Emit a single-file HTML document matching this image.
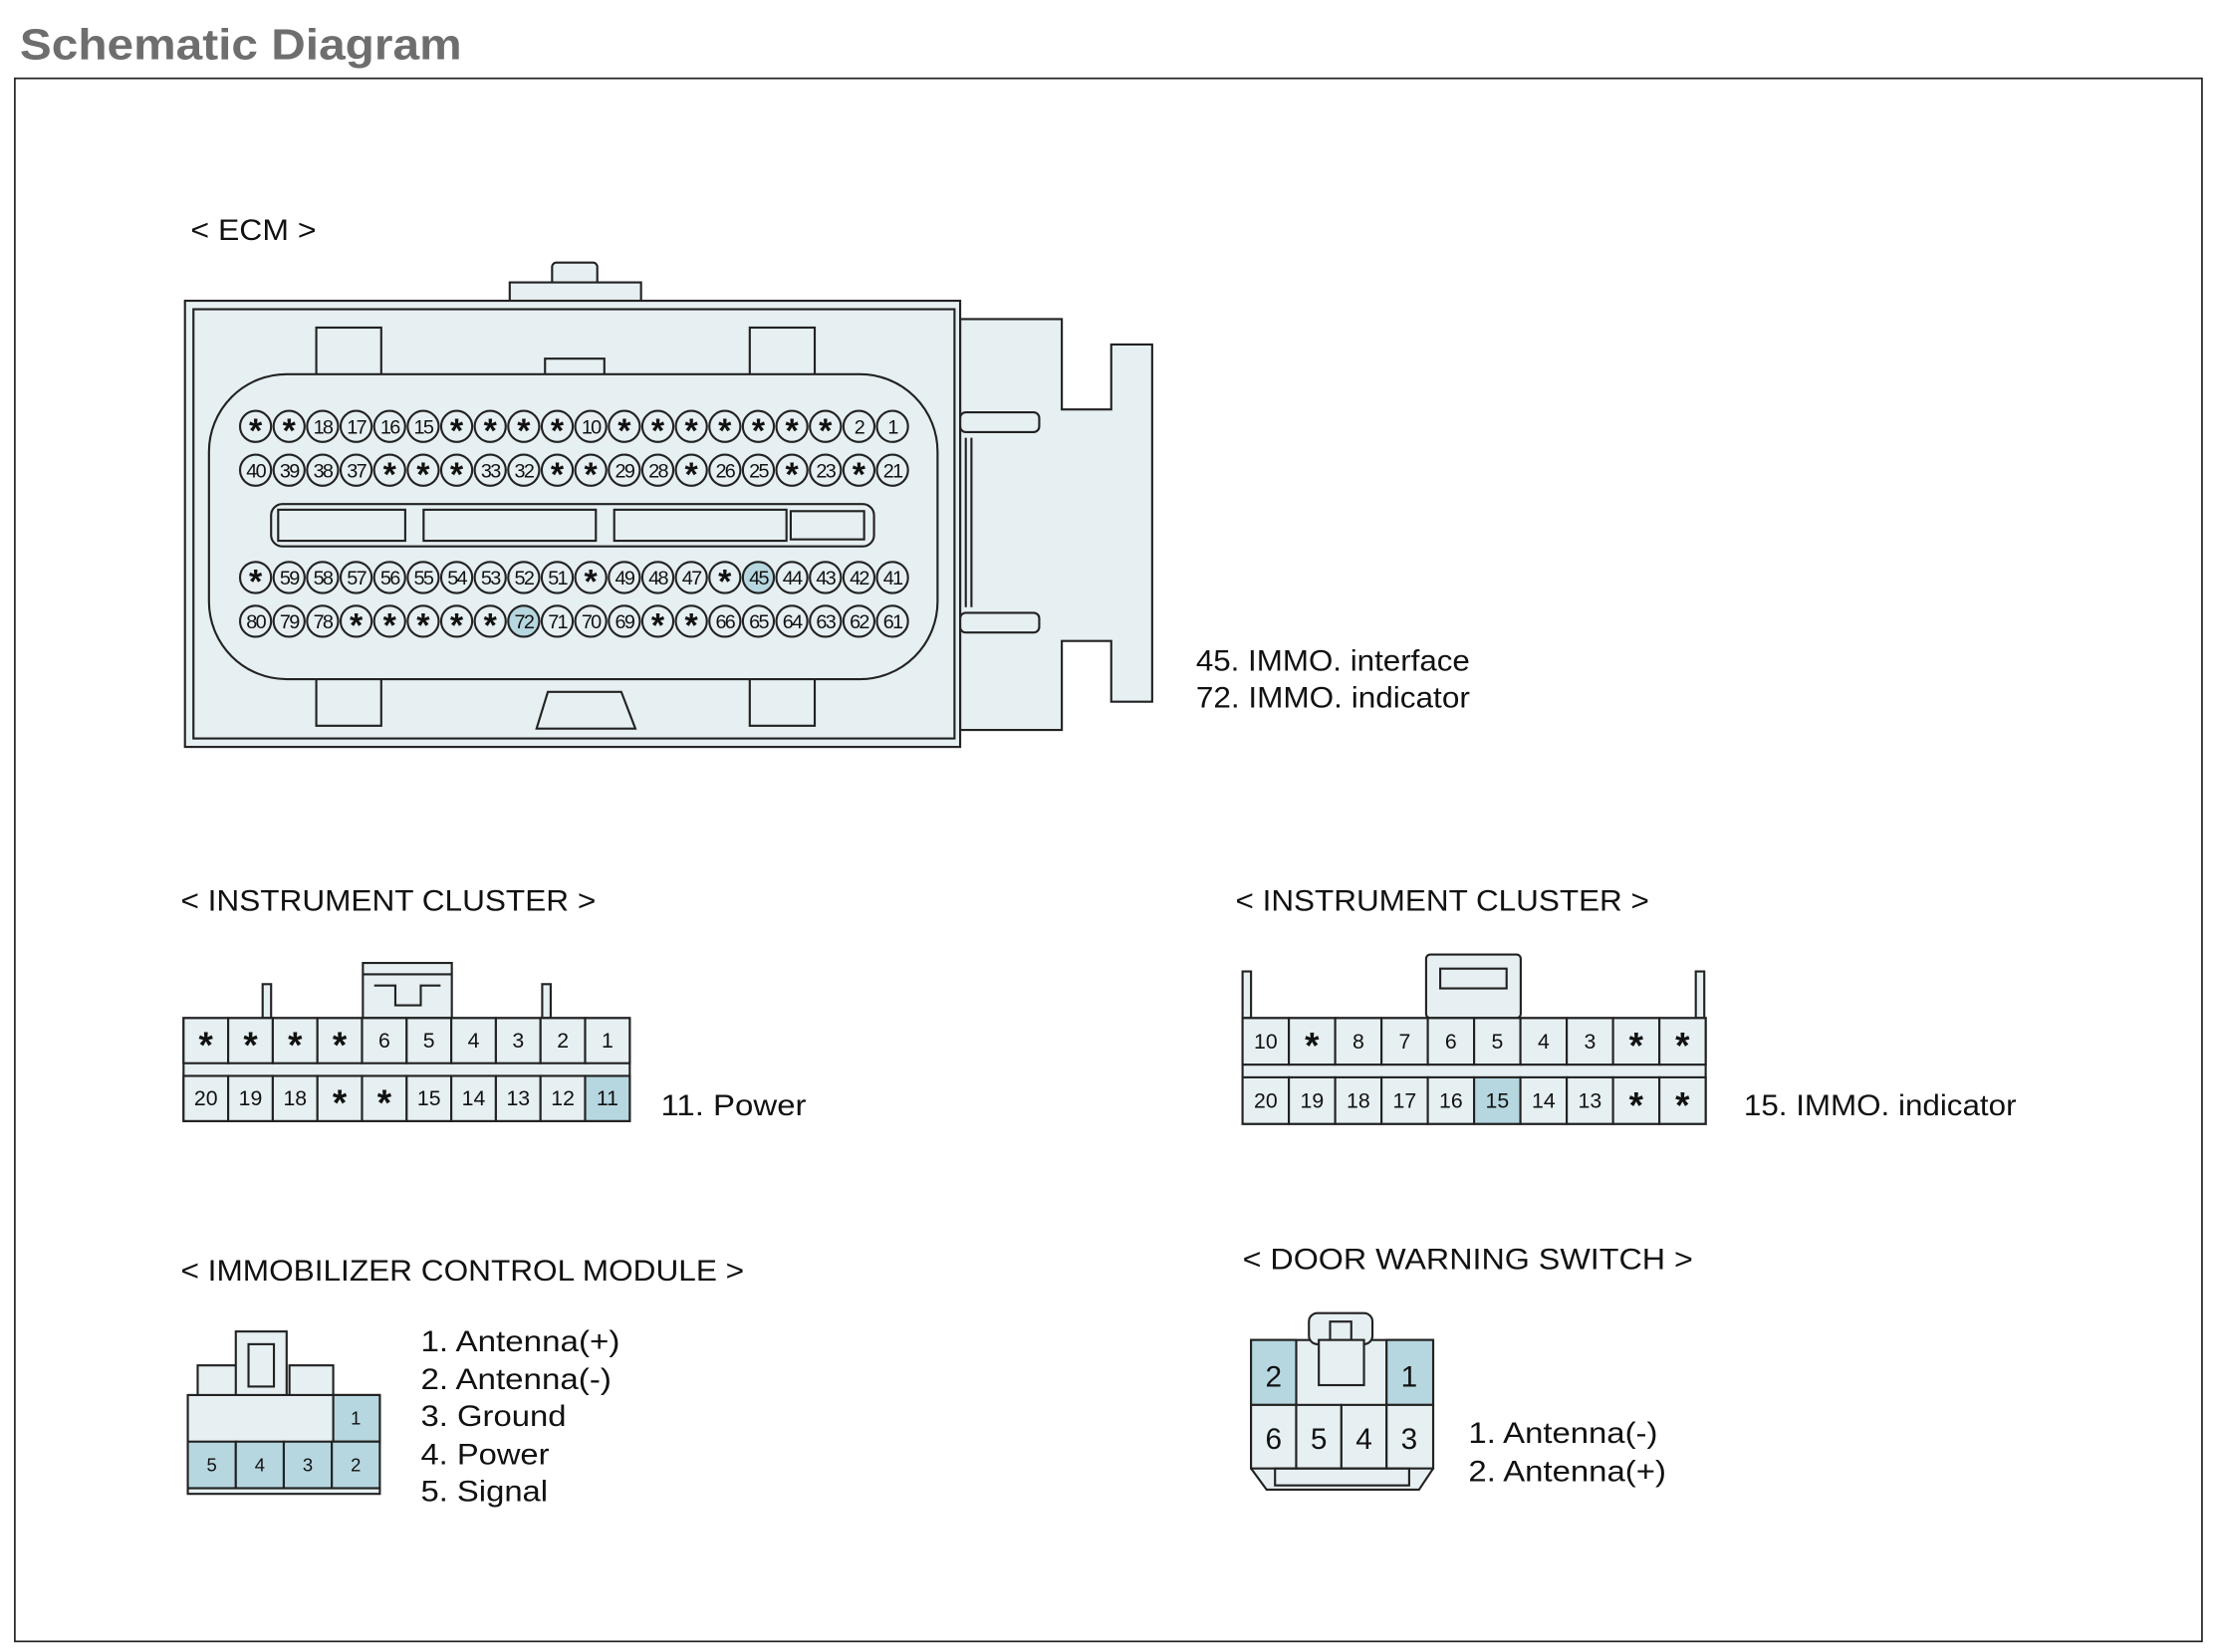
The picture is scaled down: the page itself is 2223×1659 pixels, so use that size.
<!DOCTYPE html>
<html><head><meta charset="utf-8"><style>
html,body{margin:0;padding:0;background:#fff}
svg{display:block}
text{font-family:"Liberation Sans",Arial,sans-serif}
</style></head><body>
<svg width="2223" height="1659" viewBox="0 0 1568 1170" preserveAspectRatio="none" xmlns="http://www.w3.org/2000/svg">
<defs>
<style>
.b{fill:#e6eff1;stroke:#222;stroke-width:1.5}
.h{fill:#b6d7df;stroke:#222;stroke-width:1.5}
.n{fill:none;stroke:#222;stroke-width:1.5}
.l{font-size:21px;fill:#111}
.c{fill:#111;text-anchor:middle}
</style>
</defs>
<text x="14" y="42" font-size="31" font-weight="bold" fill="#6e6e6e" textLength="313" lengthAdjust="spacingAndGlyphs">Schematic Diagram</text>
<rect x="10.5" y="55.5" width="1549" height="1107" fill="none" stroke="#222" stroke-width="1.2"/>

<!-- ECM -->
<text class="l" x="135" y="170" textLength="89" lengthAdjust="spacingAndGlyphs">&lt; ECM &gt;</text>
<rect class="b" x="391" y="186" width="32" height="16" rx="3"/>
<rect class="b" x="361" y="200" width="93" height="15"/>
<path class="b" d="M680 226 H752 V290 H787 V244 H816 V497 H787 V454 H752 V517 H680 Z"/>
<rect class="b" x="680" y="292" width="56" height="14" rx="4"/>
<rect class="b" x="680" y="434" width="56" height="14" rx="4"/>
<rect class="b" x="131" y="213" width="549" height="316"/>
<rect class="n" x="137" y="219" width="539" height="304"/>
<line class="n" x1="684" y1="310" x2="684" y2="430"/><line class="n" x1="688" y1="310" x2="688" y2="430"/>
<rect class="b" x="224" y="232" width="46" height="40"/>
<rect class="b" x="531" y="232" width="46" height="40"/>
<rect class="b" x="386" y="254" width="42" height="14"/>
<rect class="b" x="224" y="478" width="46" height="36"/>
<rect class="b" x="531" y="478" width="46" height="36"/>
<path class="b" d="M380 516 L388 490 H440 L450 516 Z"/>
<rect class="b" x="148" y="265" width="516" height="216" rx="55"/>
<rect class="b" x="192" y="357" width="427" height="30" rx="8"/>
<rect class="n" x="197" y="361" width="90" height="22"/>
<rect class="n" x="300" y="361" width="122" height="22"/>
<rect class="n" x="435" y="361" width="122" height="22"/>
<rect class="n" x="560" y="362" width="52" height="20"/>
<g id="pins"></g>

<text class="l" x="847" y="475" textLength="194" lengthAdjust="spacingAndGlyphs">45. IMMO. interface</text>
<text class="l" x="847" y="501" textLength="194" lengthAdjust="spacingAndGlyphs">72. IMMO. indicator</text>

<!-- Instrument cluster left -->
<text class="l" x="128" y="645" textLength="294" lengthAdjust="spacingAndGlyphs">&lt; INSTRUMENT CLUSTER &gt;</text>
<rect class="b" x="186" y="697" width="6" height="24"/>
<rect class="b" x="384" y="697" width="6" height="24"/>
<rect class="b" x="257" y="682" width="63" height="39"/>
<line class="n" x1="257" y1="690" x2="320" y2="690"/>
<path class="n" d="M265 698 H280 V712 H298 V698 H312"/>
<g id="icl"></g>
<text class="l" x="468" y="790" textLength="103" lengthAdjust="spacingAndGlyphs">11. Power</text>

<!-- Instrument cluster right -->
<text class="l" x="875" y="645" textLength="293" lengthAdjust="spacingAndGlyphs">&lt; INSTRUMENT CLUSTER &gt;</text>
<rect class="b" x="880" y="688" width="6" height="33"/>
<rect class="b" x="1201" y="688" width="6" height="33"/>
<rect class="b" x="1010" y="676" width="67" height="45" rx="3"/>
<rect class="n" x="1020" y="686" width="47" height="14"/>
<g id="icr"></g>
<text class="l" x="1235" y="790" textLength="193" lengthAdjust="spacingAndGlyphs">15. IMMO. indicator</text>

<!-- Immobilizer -->
<text class="l" x="128" y="907" textLength="399" lengthAdjust="spacingAndGlyphs">&lt; IMMOBILIZER CONTROL MODULE &gt;</text>
<rect class="b" x="140" y="967" width="30" height="22"/>
<rect class="b" x="205" y="967" width="31" height="22"/>
<rect class="b" x="167" y="943" width="36" height="46"/>
<rect class="n" x="176" y="952" width="18" height="30"/>
<rect class="b" x="133" y="988" width="136" height="34"/>
<rect class="h" x="236" y="988" width="33" height="33"/>
<text class="c" x="252" y="1009" font-size="13">1</text>
<rect class="h" x="133" y="1021" width="34" height="33"/><text class="c" x="150" y="1042" font-size="13">5</text>
<rect class="h" x="167" y="1021" width="34" height="33"/><text class="c" x="184" y="1042" font-size="13">4</text>
<rect class="h" x="201" y="1021" width="34" height="33"/><text class="c" x="218" y="1042" font-size="13">3</text>
<rect class="h" x="235" y="1021" width="34" height="33"/><text class="c" x="252" y="1042" font-size="13">2</text>
<rect class="b" x="133" y="1054" width="136" height="4"/>
<text class="l" x="298" y="957" textLength="141" lengthAdjust="spacingAndGlyphs">1. Antenna(+)</text>
<text class="l" x="298" y="984" textLength="135" lengthAdjust="spacingAndGlyphs">2. Antenna(-)</text>
<text class="l" x="298" y="1010" textLength="103" lengthAdjust="spacingAndGlyphs">3. Ground</text>
<text class="l" x="298" y="1037" textLength="91" lengthAdjust="spacingAndGlyphs">4. Power</text>
<text class="l" x="298" y="1063" textLength="90" lengthAdjust="spacingAndGlyphs">5. Signal</text>

<!-- Door warning -->
<text class="l" x="880" y="899" textLength="319" lengthAdjust="spacingAndGlyphs">&lt; DOOR WARNING SWITCH &gt;</text>
<path class="b" d="M886 1040 V949 H1015 V1040 L1005 1055 H897 Z"/>
<rect class="b" x="927" y="930" width="45" height="22" rx="6"/>
<rect class="n" x="942" y="936" width="15" height="16"/>
<path class="n" d="M918 995 V949 M982 995 V949"/>
<rect class="b" x="934" y="949" width="32" height="32"/>
<rect class="h" x="886" y="949" width="32" height="46"/><text class="l" x="902" y="982" text-anchor="middle">2</text>
<rect class="h" x="982" y="949" width="33" height="46"/><text class="l" x="998" y="982" text-anchor="middle">1</text>
<rect class="b" x="886" y="995" width="32" height="45"/><text class="l" x="902" y="1026" text-anchor="middle">6</text>
<rect class="b" x="918" y="995" width="32" height="45"/><text class="l" x="934" y="1026" text-anchor="middle">5</text>
<rect class="b" x="950" y="995" width="32" height="45"/><text class="l" x="966" y="1026" text-anchor="middle">4</text>
<rect class="b" x="982" y="995" width="33" height="45"/><text class="l" x="998" y="1026" text-anchor="middle">3</text>
<rect class="n" x="903" y="1040" width="95" height="12"/>
<text class="l" x="1040" y="1022" textLength="134" lengthAdjust="spacingAndGlyphs">1. Antenna(-)</text>
<text class="l" x="1040" y="1049" textLength="140" lengthAdjust="spacingAndGlyphs">2. Antenna(+)</text>
</svg>
<script>
(function(){
var ns="http://www.w3.org/2000/svg";
function el(p,t,a,txt){var e=document.createElementNS(ns,t);for(var k in a)e.setAttribute(k,a[k]);if(txt!=null)e.textContent=txt;p.appendChild(e);return e;}
var g=document.getElementById('pins');
var rows=[[302,['*','*','18','17','16','15','*','*','*','*','10','*','*','*','*','*','*','*','2','1']],
[333,['40','39','38','37','*','*','*','33','32','*','*','29','28','*','26','25','*','23','*','21']],
[409,['*','59','58','57','56','55','54','53','52','51','*','49','48','47','*','45','44','43','42','41']],
[440,['80','79','78','*','*','*','*','*','72','71','70','69','*','*','66','65','64','63','62','61']]];
rows.forEach(function(r){r[1].forEach(function(t,i){var x=181+i*23.74;
el(g,'circle',{cx:x,cy:r[0],r:11,'class':(t=='45'||t=='72')?'h':'b'});
if(t=='*')el(g,'text',{x:x,y:r[0]+11,'class':'c',style:'font-size:24px;font-weight:bold'},t);
else el(g,'text',{x:x,y:r[0]+5,'class':'c',style:'font-size:14px;letter-spacing:-1.2px'},t);});});
function conn(id,x0,w,yt,yb,h,top,bot,hl){var g=document.getElementById(id);
el(g,'rect',{x:x0,y:yt,width:w*10,height:yb-yt+h,'class':'b'});
function lab(x,y,t){if(t=='*')el(g,'text',{x:x,y:y+12,'class':'c',style:'font-size:26px;font-weight:bold'},t);
else el(g,'text',{x:x,y:y+5,'class':'c',style:'font-size:15px'},t);}
for(var i=0;i<10;i++){var x=x0+i*w;
el(g,'rect',{x:x,y:yt,width:w,height:h,'class':'b'});
el(g,'rect',{x:x,y:yb,width:w,height:h,'class':bot[i]==hl?'h':'b'});
lab(x+w/2,yt+h/2,top[i]);lab(x+w/2,yb+h/2,bot[i]);}}
conn('icl',130,31.6,721,762,32,['*','*','*','*','6','5','4','3','2','1'],['20','19','18','*','*','15','14','13','12','11'],'11');
conn('icr',880,32.8,721,763,33,['10','*','8','7','6','5','4','3','*','*'],['20','19','18','17','16','15','14','13','*','*'],'15');
})();
</script>
</body></html>
